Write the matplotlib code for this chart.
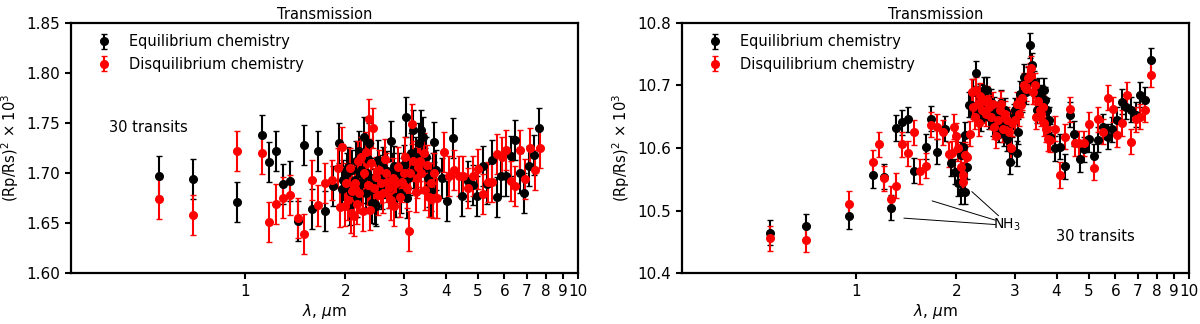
import matplotlib
matplotlib.use("Agg")
import matplotlib.pyplot as plt
from matplotlib.ticker import FixedLocator, NullLocator, FixedFormatter

# ---- left panel data ----
left_eq_x = [0.552, 0.696, 0.948, 1.122, 1.183, 1.242, 1.303, 1.364, 1.439, 1.507,
             1.585, 1.655, 1.74, 1.83, 1.91, 1.95, 1.97, 2.00, 2.02, 2.04,
             2.06, 2.08, 2.10, 2.13, 2.15, 2.17, 2.19, 2.21, 2.22, 2.25,
             2.28, 2.30, 2.32, 2.34, 2.36, 2.38, 2.40, 2.43, 2.45, 2.47,
             2.49, 2.51, 2.54, 2.57, 2.60, 2.63, 2.66, 2.70, 2.74, 2.77,
             2.80, 2.83, 2.86, 2.90, 2.93, 2.97, 3.00, 3.03, 3.06, 3.09,
             3.12, 3.15, 3.19, 3.22, 3.26, 3.30, 3.33, 3.37, 3.42, 3.46,
             3.49, 3.53, 3.56, 3.60, 3.62, 3.66, 3.70, 3.75, 3.90, 4.04,
             4.20, 4.48, 4.68, 4.83, 4.96, 5.16, 5.33, 5.51, 5.68, 5.86,
             6.05, 6.26, 6.45, 6.66, 6.88, 7.12, 7.35, 7.62]
left_eq_y = [1.697, 1.694, 1.671, 1.738, 1.711, 1.722, 1.689, 1.692, 1.652, 1.728,
             1.664, 1.722, 1.662, 1.687, 1.730, 1.684, 1.693, 1.686, 1.700, 1.706,
             1.668, 1.681, 1.703, 1.693, 1.712, 1.676, 1.722, 1.700, 1.703, 1.690,
             1.736, 1.680, 1.700, 1.714, 1.730, 1.695, 1.670, 1.684, 1.669, 1.667,
             1.690, 1.713, 1.698, 1.684, 1.706, 1.695, 1.702, 1.685, 1.732, 1.700,
             1.707, 1.676, 1.690, 1.700, 1.680, 1.695, 1.708, 1.756, 1.675, 1.695,
             1.698, 1.720, 1.743, 1.705, 1.716, 1.700, 1.730, 1.743, 1.736, 1.705,
             1.716, 1.695, 1.686, 1.682, 1.676, 1.700, 1.731, 1.703, 1.695, 1.672,
             1.735, 1.677, 1.692, 1.688, 1.677, 1.707, 1.689, 1.713, 1.676, 1.697,
             1.697, 1.717, 1.733, 1.700, 1.680, 1.707, 1.718, 1.745]
left_dis_x = [0.552, 0.696, 0.948, 1.122, 1.183, 1.242, 1.303, 1.364, 1.439, 1.507,
              1.585, 1.655, 1.74, 1.82, 1.90, 1.93, 1.96, 1.99, 2.01, 2.03,
              2.06, 2.08, 2.10, 2.12, 2.14, 2.16, 2.18, 2.20, 2.23, 2.26,
              2.28, 2.31, 2.33, 2.35, 2.37, 2.39, 2.42, 2.44, 2.47, 2.50,
              2.53, 2.56, 2.59, 2.62, 2.65, 2.67, 2.71, 2.74, 2.77, 2.80,
              2.84, 2.88, 2.92, 2.96, 2.99, 3.02, 3.06, 3.10, 3.13, 3.16,
              3.20, 3.25, 3.28, 3.31, 3.35, 3.38, 3.43, 3.47, 3.51, 3.56,
              3.60, 3.65, 3.70, 3.76, 3.96, 4.09, 4.23, 4.37, 4.51, 4.68,
              4.83, 4.99, 5.16, 5.34, 5.51, 5.70, 5.89, 6.07, 6.26, 6.46,
              6.70, 6.93, 7.15, 7.39, 7.66]
left_dis_y = [1.674, 1.658, 1.7225, 1.7196, 1.651, 1.6694, 1.6757, 1.678, 1.6555, 1.639,
              1.693, 1.6678, 1.690, 1.693, 1.705, 1.666, 1.726, 1.667, 1.690, 1.673,
              1.705, 1.660, 1.682, 1.657, 1.690, 1.669, 1.712, 1.680, 1.716, 1.662,
              1.700, 1.721, 1.688, 1.754, 1.663, 1.710, 1.745, 1.685, 1.696, 1.678,
              1.703, 1.690, 1.680, 1.714, 1.700, 1.691, 1.685, 1.673, 1.695, 1.667,
              1.690, 1.706, 1.676, 1.691, 1.700, 1.716, 1.685, 1.642, 1.700, 1.749,
              1.712, 1.681, 1.695, 1.706, 1.712, 1.700, 1.720, 1.683, 1.708, 1.676,
              1.690, 1.675, 1.700, 1.675, 1.7215, 1.697, 1.703, 1.697, 1.697, 1.685,
              1.697, 1.704, 1.679, 1.6915, 1.691, 1.719, 1.716, 1.723, 1.6926, 1.687,
              1.723, 1.694, 1.725, 1.703, 1.725]
left_err = 0.02

# ---- right panel data ----
right_eq_x = [0.554, 0.707, 0.951, 1.122, 1.218, 1.276, 1.321, 1.377, 1.436, 1.494,
              1.625, 1.686, 1.75, 1.847, 1.925, 1.99, 2.02, 2.06, 2.07, 2.09,
              2.12, 2.13, 2.15, 2.19, 2.22, 2.25, 2.30, 2.33, 2.36, 2.37,
              2.40, 2.42, 2.45, 2.48, 2.51, 2.54, 2.57, 2.60, 2.63, 2.66,
              2.69, 2.73, 2.76, 2.78, 2.81, 2.84, 2.89, 2.92, 2.95, 2.98,
              3.01, 3.04, 3.06, 3.10, 3.15, 3.20, 3.24, 3.28, 3.33, 3.38,
              3.42, 3.46, 3.50, 3.54, 3.58, 3.62, 3.66, 3.70, 3.74, 3.79,
              3.83, 3.97, 4.11, 4.23, 4.38, 4.50, 4.69, 4.85, 5.02, 5.17,
              5.34, 5.51, 5.69, 5.88, 6.07, 6.27, 6.48, 6.70, 6.94, 7.14,
              7.37, 7.66]
right_eq_y = [10.465, 10.4755, 10.4915, 10.557, 10.554, 10.505, 10.632, 10.641, 10.646, 10.564,
              10.602, 10.647, 10.594, 10.631, 10.576, 10.562, 10.544, 10.530, 10.589, 10.602,
              10.530, 10.621, 10.570, 10.669, 10.669, 10.690, 10.719, 10.660, 10.682, 10.647,
              10.680, 10.693, 10.665, 10.693, 10.650, 10.674, 10.640, 10.661, 10.650, 10.636,
              10.629, 10.672, 10.640, 10.623, 10.660, 10.615, 10.578, 10.640, 10.597, 10.650,
              10.660, 10.592, 10.626, 10.687, 10.677, 10.714, 10.690, 10.710, 10.764, 10.732,
              10.703, 10.690, 10.660, 10.692, 10.670, 10.680, 10.692, 10.677, 10.660, 10.645,
              10.618, 10.600, 10.602, 10.571, 10.653, 10.623, 10.582, 10.598, 10.614, 10.587,
              10.613, 10.634, 10.618, 10.630, 10.645, 10.674, 10.666, 10.661, 10.653, 10.685,
              10.677, 10.740]
right_dis_x = [0.554, 0.707, 0.951, 1.122, 1.175, 1.218, 1.276, 1.321, 1.377, 1.436,
               1.494, 1.559, 1.625, 1.686, 1.75, 1.83, 1.90, 1.94, 1.97, 2.00,
               2.03, 2.07, 2.09, 2.10, 2.12, 2.16, 2.20, 2.23, 2.25, 2.28,
               2.30, 2.32, 2.34, 2.36, 2.39, 2.42, 2.45, 2.48, 2.51, 2.55,
               2.58, 2.60, 2.63, 2.66, 2.70, 2.73, 2.76, 2.80, 2.84, 2.87,
               2.91, 2.95, 3.01, 3.04, 3.08, 3.12, 3.15, 3.19, 3.23, 3.28,
               3.32, 3.36, 3.40, 3.44, 3.48, 3.52, 3.56, 3.60, 3.64, 3.68,
               3.72, 3.76, 3.82, 3.97, 4.11, 4.23, 4.38, 4.54, 4.68, 4.84,
               5.00, 5.17, 5.34, 5.51, 5.69, 5.90, 6.08, 6.28, 6.50, 6.70,
               6.94, 7.14, 7.37, 7.66]
right_dis_y = [10.456, 10.454, 10.511, 10.577, 10.606, 10.552, 10.519, 10.540, 10.606, 10.592,
               10.625, 10.563, 10.572, 10.637, 10.634, 10.625, 10.590, 10.592, 10.634, 10.620,
               10.600, 10.570, 10.546, 10.557, 10.589, 10.586, 10.623, 10.690, 10.666, 10.650,
               10.693, 10.671, 10.640, 10.683, 10.660, 10.675, 10.655, 10.679, 10.665, 10.650,
               10.670, 10.634, 10.620, 10.645, 10.660, 10.671, 10.630, 10.655, 10.645, 10.625,
               10.600, 10.640, 10.645, 10.670, 10.655, 10.669, 10.680, 10.700, 10.695, 10.711,
               10.715, 10.727, 10.690, 10.700, 10.650, 10.675, 10.660, 10.655, 10.665, 10.640,
               10.630, 10.615, 10.613, 10.631, 10.557, 10.618, 10.662, 10.608, 10.608, 10.608,
               10.638, 10.569, 10.646, 10.626, 10.680, 10.662, 10.621, 10.640, 10.685, 10.610,
               10.646, 10.650, 10.661, 10.717]
right_err = 0.02

# NH3 features marked on the right panel (x, y of the feature)
nh3_x = [2.15, 1.617, 1.328]
nh3_y = [10.538, 10.519, 10.489]

xticks = [1, 2, 3, 4, 5, 6, 7, 8, 9, 10]
xticklabels = ["1", "2", "3", "4", "5", "6", "7", "8", "9", "10"]

plt.rcParams["font.family"] = ["DejaVu Sans"]
plt.rcParams["axes.linewidth"] = 1.6

fig = plt.figure(figsize=(12, 3.24), dpi=100)
ax1 = fig.add_axes([0.059, 0.156, 0.423, 0.774])
ax2 = fig.add_axes([0.568, 0.156, 0.423, 0.774])

eb = dict(fmt="o", ms=5.5, capsize=2.5, elinewidth=1.5, capthick=1.0)


def style_axes(ax, ylim, yticks, yfmt, transits_pos):
    ax.set_xscale("log")
    ax.set_xlim(0.3, 10)
    ax.set_ylim(*ylim)
    ax.xaxis.set_major_locator(FixedLocator(xticks))
    ax.xaxis.set_major_formatter(FixedFormatter(xticklabels))
    ax.xaxis.set_minor_locator(NullLocator())
    ax.set_yticks(yticks)
    ax.set_yticklabels([yfmt.format(v) for v in yticks])
    ax.tick_params(direction="out", length=4, width=1.5, labelsize=11)
    ax.set_title("Transmission", fontsize=10.5, pad=3)
    ax.set_xlabel(r"$\lambda$, $\mu$m", fontsize=11, labelpad=2)
    ax.set_ylabel(r"(Rp/Rs)$^2$ $\times$ 10$^3$", fontsize=10.5)
    ax.text(transits_pos[0], transits_pos[1], "30 transits", transform=ax.transAxes,
            fontsize=10.5, ha="center", va="center")
    ax.legend(loc="upper left", bbox_to_anchor=(0.028, 1.0), frameon=False, fontsize=10.5,
              handlelength=1.0, handletextpad=1.2, borderaxespad=0.4, labelspacing=0.5)


ax1.errorbar(left_eq_x, left_eq_y, yerr=left_err, color="black", label="Equilibrium chemistry", **eb)
ax1.errorbar(left_dis_x, left_dis_y, yerr=left_err, color="red", label="Disquilibrium chemistry", **eb)
style_axes(ax1, (1.60, 1.85), [1.60, 1.65, 1.70, 1.75, 1.80, 1.85], "{:.2f}", (0.153, 0.581))

ax2.errorbar(right_eq_x, right_eq_y, yerr=right_err, color="black", label="Equilibrium chemistry", **eb)
ax2.errorbar(right_dis_x, right_dis_y, yerr=right_err, color="red", label="Disquilibrium chemistry", **eb)
style_axes(ax2, (10.4, 10.8), [10.4, 10.5, 10.6, 10.7, 10.8], "{:.1f}", (0.815, 0.148))

# NH3 label with lines to the features
ax2.text(2.83, 10.477, r"NH$_3$", fontsize=10, ha="center", va="center")
line_starts = [(2.68, 10.492), (2.62, 10.485), (2.62, 10.478)]
for (sx, sy), fx, fy in zip(line_starts, nh3_x, nh3_y):
    ax2.annotate("", xy=(fx, fy), xytext=(sx, sy),
                 arrowprops=dict(arrowstyle="-", color="black", lw=0.7, shrinkA=0, shrinkB=5))

fig.savefig("out.png", dpi=100)
